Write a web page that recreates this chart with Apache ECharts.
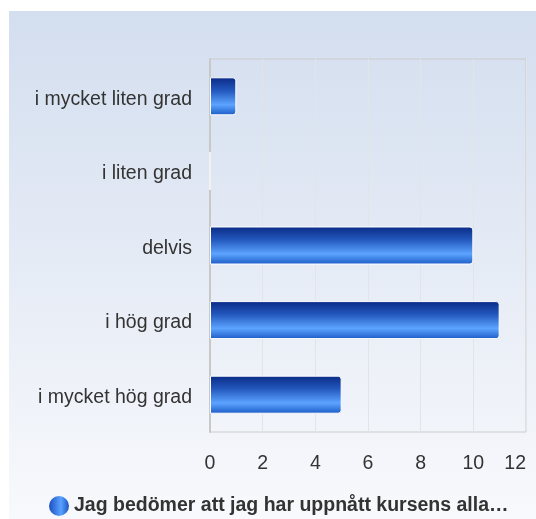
<!DOCTYPE html>
<html>
<head>
<meta charset="utf-8">
<script src="https://cdn.jsdelivr.net/npm/echarts@6/dist/echarts.min.js"></script>
<style>
html,body{margin:0;padding:0;background:#fff;width:536px;height:519px;overflow:hidden;}
#c{position:absolute;left:9px;top:11px;width:527px;height:508px;}
</style>
</head>
<body>
<div id="c"></div>
<script>
const categories = ['i mycket liten grad', 'i liten grad', 'delvis', 'i hög grad', 'i mycket hög grad'];
const values = [1, 0, 10, 11, 5];
const seriesName = 'Jag bedömer att jag har uppnått kursens alla…';
const xTicks = [0, 2, 4, 6, 8, 10, 12];

const chart = echarts.init(document.getElementById('c'), null, {renderer: 'canvas'});
const barGrad = new echarts.graphic.LinearGradient(0, 0, 0, 1, [
  {offset: 0, color: '#0a2a85'},
  {offset: 0.35, color: '#2358bd'},
  {offset: 0.72, color: '#5ca4ff'},
  {offset: 1, color: '#1b5bc6'}
]);
const legendGrad = new echarts.graphic.LinearGradient(0, 0, 1, 0, [
  {offset: 0, color: '#1a4fc0'},
  {offset: 0.6, color: '#5aa2ff'},
  {offset: 1, color: '#1b55c0'}
]);
chart.setOption({
  backgroundColor: new echarts.graphic.LinearGradient(0, 0, 0, 1, [
    {offset: 0, color: '#d3deef'},
    {offset: 1, color: '#f8f9fc'}
  ]),
  animation: false,
  textStyle: {fontFamily: 'Liberation Sans, Arial, sans-serif'},
  grid: {left: 201, right: 10, top: 48, bottom: 87, containLabel: false, show: true, borderColor: '#cccccc', borderWidth: 1, backgroundColor: 'transparent'},
  legend: {
    show: true, bottom: 3, left: 40, padding: 0,
    icon: 'circle', itemWidth: 20, itemHeight: 20, itemGap: 6,
    textStyle: {fontSize: 19.5, fontWeight: 'bold', color: '#333'},
    data: [{name: seriesName, itemStyle: {color: legendGrad, borderWidth: 0}}]
  },
  xAxis: {
    type: 'value', min: xTicks[0], max: xTicks[xTicks.length - 1], interval: 2,
    axisLine: {show: false}, axisTick: {show: false},
    splitLine: {show: true, lineStyle: {color: '#e2e4e8', width: 1}},
    axisLabel: {fontSize: 19.5, color: '#333', margin: 22, alignMaxLabel: 'right'}
  },
  yAxis: {
    type: 'category', data: categories, inverse: true,
    axisLine: {show: true, lineStyle: {color: '#c8c8c8', width: 2}},
    axisTick: {show: false},
    axisLabel: {
      color: '#333', margin: 18,
      formatter: function (v) { return '{a|' + v + '}'; },
      rich: {a: {fontSize: 19.5, color: '#333', fontFamily: 'Liberation Sans, Arial, sans-serif', padding: [6, 0, 0, 0]}}
    }
  },
  series: [{
    name: seriesName, type: 'bar', data: values, barWidth: 38,
    itemStyle: {color: barGrad, borderColor: '#ffffff', borderWidth: 1, borderRadius: [0, 3, 3, 0]}
  }]
});
</script>
</body>
</html>
